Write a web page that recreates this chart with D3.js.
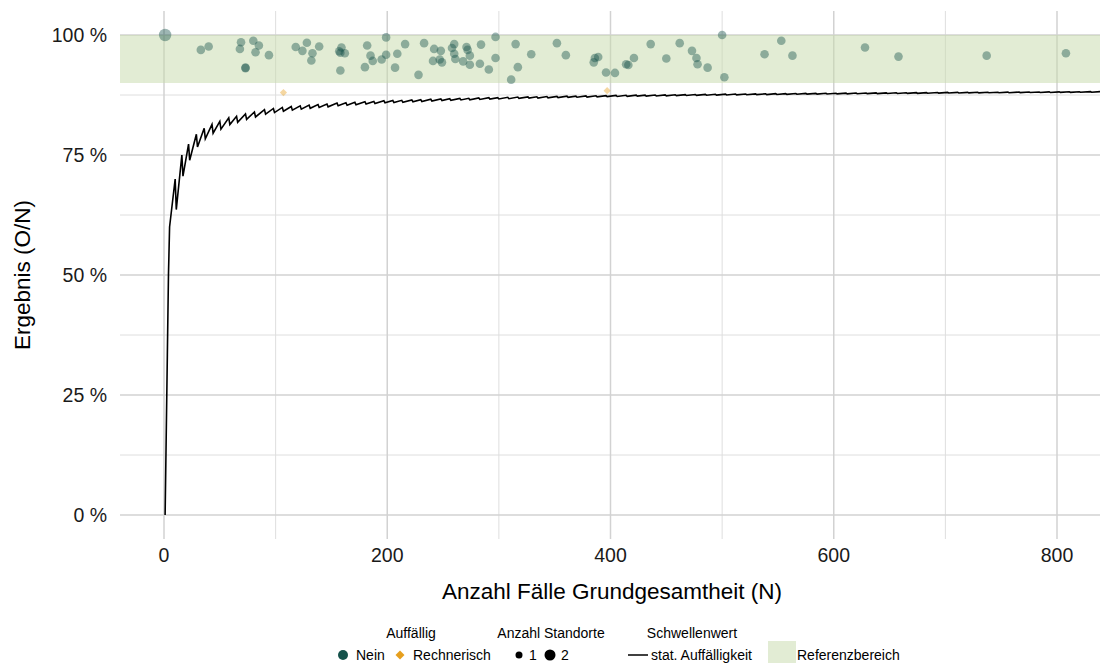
<!DOCTYPE html>
<html>
<head>
<meta charset="utf-8">
<script src="https://cdn.jsdelivr.net/npm/d3@7"></script>
<style>
  html, body { margin: 0; padding: 0; background: #fff; }
  svg { display: block; font-family: "Liberation Sans", Arial, Helvetica, sans-serif; }
</style>
</head>
<body>
<svg id="chart" width="1100" height="663"></svg>
<script>
// ---------------- data ----------------
// Standorte (points)
const pointN    = [1,33,40,68,69,73,73,80,82,85,94,118,124,128,132,133,139,157,158,158,159,162,180,182,185,187,195,199,199,207,209,216,228,233,241,242,247,248,249,258,260,260,261,268,271,272,274,274,283,284,291,297,297,311,315,317,329,352,360,385,386,389,396,404,414,416,421,436,450,462,473,477,478,487,500,502,538,553,563,628,658,737,808, 107,397];
const pointPct  = [100,96.9,97.6,97.1,98.5,93.1,93.2,98.8,96.4,97.8,95.8,97.5,96.7,98.4,94.7,96.2,97.6,96.6,96.3,92.6,97.4,96.2,93.3,97.8,95.7,94.6,94.9,99.5,95.9,93.2,96.1,98.1,91.7,98.3,94.6,97.1,94.9,96.7,94.3,97.3,98.1,96.1,95.0,94.5,97.5,96.9,95.7,93.8,94.0,98.0,92.8,99.6,95.2,90.7,98.1,93.3,96.0,98.3,95.8,94.3,95.2,95.4,92.2,92.1,93.9,93.75,95.2,98.1,95.1,98.3,96.7,95.2,93.9,93.2,100,91.2,96.0,98.8,95.7,97.4,95.5,95.7,96.2, 88.0,88.4];
const pointStandorte = [2,1,1,1,1,1,1,1,1,1,1,1,1,1,1,1,1,1,1,1,1,1,1,1,1,1,1,1,1,1,1,1,1,1,1,1,1,1,1,1,1,1,1,1,1,1,1,1,1,1,1,1,1,1,1,1,1,1,1,1,1,1,1,1,1,1,1,1,1,1,1,1,1,1,1,1,1,1,1,1,1,1,1, 1,1];
const pointAuffaellig = [
  "Nein","Nein","Nein","Nein","Nein","Nein","Nein","Nein","Nein","Nein","Nein","Nein","Nein","Nein","Nein","Nein","Nein","Nein","Nein","Nein",
  "Nein","Nein","Nein","Nein","Nein","Nein","Nein","Nein","Nein","Nein","Nein","Nein","Nein","Nein","Nein","Nein","Nein","Nein","Nein","Nein",
  "Nein","Nein","Nein","Nein","Nein","Nein","Nein","Nein","Nein","Nein","Nein","Nein","Nein","Nein","Nein","Nein","Nein","Nein","Nein","Nein",
  "Nein","Nein","Nein","Nein","Nein","Nein","Nein","Nein","Nein","Nein","Nein","Nein","Nein","Nein","Nein","Nein","Nein","Nein","Nein","Nein",
  "Nein","Nein","Nein", "Rechnerisch","Rechnerisch"];

// Schwellenwert (stat. Auffälligkeit): tooth tops of the step curve, N and count O at each top
const thresholdStartN = 1, thresholdStartO = 0;
const thresholdN = [3,4,5,10,16,22,29,36,43,50,58,65,73,81,90,98,106,114,122,130,138,146,155,163,171,180,188,197,205,213,222,230,239,248,256,265,273,282,291,299,308,317,326,334,343,352,361,369,378,387,396,405,414,423,431,440,449,458,467,476,485,494,503,512,521,530,539,548,557,566,575,584,593,602,611,620,629,638,647,656,665,674,683,693,702,711,720,729,738,747,756,766,775,784,793,802,811,820,830,840];
const thresholdO = [1,2,3,7,12,17,23,29,35,41,48,54,61,68,76,83,90,97,104,111,118,125,133,140,147,155,162,170,177,184,192,199,207,215,222,230,237,245,253,260,268,276,284,291,299,307,315,322,330,338,346,354,362,370,377,385,393,401,409,417,425,433,441,449,457,465,473,481,489,497,505,513,521,529,537,545,553,561,569,577,585,593,601,610,618,626,634,642,650,658,666,675,683,691,699,707,715,723,732,741];

// Referenzbereich
const refLow = 90, refHigh = 100;

// axes
const xTicks = [0,200,400,600,800];
const xMinor = [100,300,500,700];
const yTicks = [0,25,50,75,100];
const yTickLabels = ["0 %","25 %","50 %","75 %","100 %"];
const yMinor = [12.5,37.5,62.5,87.5];

// ---------------- drawing ----------------
const svg = d3.select("#chart");
const panel = {left: 120, right: 1100, top: 11, bottom: 539};

const x = d3.scaleLinear().domain([0, 800]).range([164, 1057]);
const y = d3.scaleLinear().domain([0, 100]).range([515, 35]);

svg.append("defs").append("clipPath").attr("id","clip")
  .append("rect").attr("x", panel.left).attr("y", panel.top)
  .attr("width", panel.right - panel.left).attr("height", panel.bottom - panel.top);

const grid = svg.append("g");
// minor grid
grid.selectAll(".vminor").data(xMinor).join("line")
  .attr("x1", d => x(d)).attr("x2", d => x(d)).attr("y1", panel.top).attr("y2", panel.bottom)
  .attr("stroke", "#dedede").attr("stroke-width", 1);
grid.selectAll(".hminor").data(yMinor).join("line")
  .attr("y1", d => y(d)).attr("y2", d => y(d)).attr("x1", panel.left).attr("x2", panel.right)
  .attr("stroke", "#dedede").attr("stroke-width", 1);
// major grid
grid.selectAll(".vmajor").data(xTicks).join("line")
  .attr("x1", d => x(d)).attr("x2", d => x(d)).attr("y1", panel.top).attr("y2", panel.bottom)
  .attr("stroke", "#d2d2d2").attr("stroke-width", 1.5);
grid.selectAll(".hmajor").data(yTicks).join("line")
  .attr("y1", d => y(d)).attr("y2", d => y(d)).attr("x1", panel.left).attr("x2", panel.right)
  .attr("stroke", "#d2d2d2").attr("stroke-width", 1.5);

const plot = svg.append("g").attr("clip-path", "url(#clip)");

// reference band
plot.append("rect")
  .attr("x", panel.left).attr("width", panel.right - panel.left)
  .attr("y", y(refHigh)).attr("height", y(refLow) - y(refHigh))
  .attr("fill", "#c5d9a9").attr("fill-opacity", 0.5);

// threshold line
const linePts = [[thresholdStartN, thresholdStartO / thresholdStartN * 100]];
thresholdN.forEach((n, i) => {
  linePts.push([n, thresholdO[i] / n * 100]);
  if (i >= 3) linePts.push([n + 1, thresholdO[i] / (n + 1) * 100]);
});
plot.append("path")
  .datum(linePts)
  .attr("fill", "none").attr("stroke", "#000").attr("stroke-width", 1.6)
  .attr("stroke-linejoin", "miter")
  .attr("d", d3.line().x(d => x(d[0])).y(d => y(d[1])));

// points
const pts = pointN.map((n, i) => ({n, p: pointPct[i], s: pointStandorte[i], a: pointAuffaellig[i]}));
const rScale = d3.scaleOrdinal().domain([1, 2]).range([4.3, 6.2]);
const colorScale = d3.scaleOrdinal().domain(["Nein","Rechnerisch"]).range(["#15524b", "#e69f1e"]);

plot.selectAll(".pt").data(pts.filter(d => d.a === "Nein")).join("circle")
  .attr("cx", d => x(d.n)).attr("cy", d => y(d.p)).attr("r", d => rScale(d.s))
  .attr("fill", d => colorScale(d.a)).attr("fill-opacity", 0.42);

plot.selectAll(".dm").data(pts.filter(d => d.a === "Rechnerisch")).join("path")
  .attr("transform", d => `translate(${x(d.n)},${y(d.p)}) rotate(45)`)
  .attr("d", d3.symbol().type(d3.symbolSquare).size(d => d.s === 2 ? 60 : 26))
  .attr("fill", d => colorScale(d.a)).attr("fill-opacity", 0.42);

// axis labels
svg.append("g").selectAll("text").data(xTicks).join("text")
  .attr("x", d => x(d)).attr("y", 562).attr("text-anchor", "middle")
  .attr("font-size", 19.5).attr("fill", "#1a1a1a").text(d => d);
svg.append("g").selectAll("text").data(yTicks).join("text")
  .attr("x", 107).attr("y", d => y(d) + 7).attr("text-anchor", "end")
  .attr("font-size", 19.5).attr("fill", "#1a1a1a").text((d, i) => yTickLabels[i]);

svg.append("text").attr("x", 612).attr("y", 599).attr("text-anchor", "middle")
  .attr("font-size", 22.5).attr("fill", "#000").text("Anzahl Fälle Grundgesamtheit (N)");
svg.append("text").attr("transform", "translate(30,275) rotate(-90)").attr("text-anchor", "middle")
  .attr("font-size", 22.5).attr("fill", "#000").text("Ergebnis (O/N)");

// legend
const lg = svg.append("g").attr("font-size", 14).attr("fill", "#000");
const titleY = 638, itemY = 660;
lg.append("text").attr("x", 411).attr("y", titleY).attr("text-anchor", "middle").text("Auffällig");
lg.append("text").attr("x", 551).attr("y", titleY).attr("text-anchor", "middle").text("Anzahl Standorte");
lg.append("text").attr("x", 692).attr("y", titleY).attr("text-anchor", "middle").text("Schwellenwert");

lg.append("circle").attr("cx", 343).attr("cy", itemY - 5).attr("r", 5).attr("fill", colorScale("Nein"));
lg.append("text").attr("x", 356).attr("y", itemY).text("Nein");
lg.append("path").attr("transform", `translate(400,${itemY - 5}) rotate(45)`)
  .attr("d", d3.symbol().type(d3.symbolSquare).size(40)).attr("fill", colorScale("Rechnerisch"));
lg.append("text").attr("x", 413).attr("y", itemY).text("Rechnerisch");

lg.append("circle").attr("cx", 519).attr("cy", itemY - 5).attr("r", 3.5).attr("fill", "#000");
lg.append("text").attr("x", 529).attr("y", itemY).text("1");
lg.append("circle").attr("cx", 550).attr("cy", itemY - 5).attr("r", 5.5).attr("fill", "#000");
lg.append("text").attr("x", 561).attr("y", itemY).text("2");

lg.append("line").attr("x1", 628).attr("x2", 648).attr("y1", itemY - 5).attr("y2", itemY - 5)
  .attr("stroke", "#000").attr("stroke-width", 1.5);
lg.append("text").attr("x", 651).attr("y", itemY).text("stat. Auffälligkeit");

lg.append("rect").attr("x", 768).attr("y", 641).attr("width", 28).attr("height", 22)
  .attr("fill", "#c5d9a9").attr("fill-opacity", 0.5);
lg.append("text").attr("x", 797).attr("y", itemY).text("Referenzbereich");
</script>
</body>
</html>
